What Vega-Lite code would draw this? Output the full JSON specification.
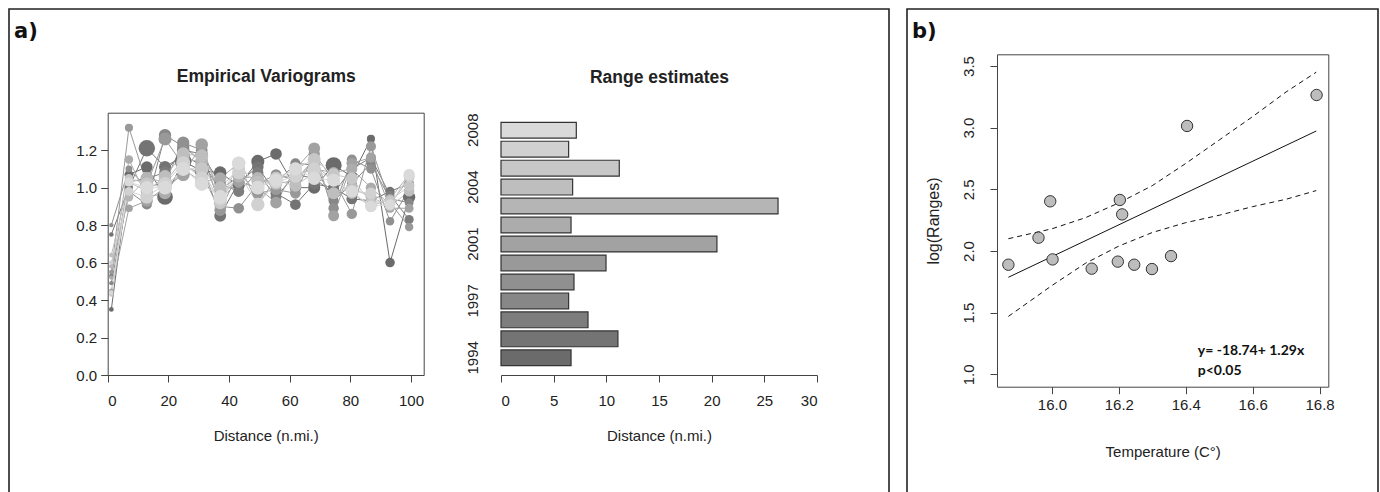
{
"$schema": "https://vega.github.io/schema/vega-lite/v6.json",
"padding": {"left": 8, "top": 8, "right": 0, "bottom": 0},
"background": "white",
"bounds": "flush",
"spacing": 18,
"config": {
  "view": {"stroke": "#222", "strokeWidth": 1.6},
  "font": "Liberation Sans",
  "axis": {"labelFont": "Liberation Sans", "titleFont": "Liberation Sans", "labelFontSize": 15, "titleFontSize": 15, "labelColor": "#222", "titleColor": "#222", "tickColor": "#444", "domainColor": "#444", "grid": false, "titleFontWeight": "normal", "tickSize": 7, "labelPadding": 4}
},
"datasets": {
"vario": [
{"year":1994,"d":1.2,"g":0.35,"n":20},{"year":1994,"d":7,"g":1.07,"n":110},{"year":1994,"d":12.9,"g":1.11,"n":200},{"year":1994,"d":18.9,"g":0.95,"n":380},{"year":1994,"d":24.9,"g":1.14,"n":420},{"year":1994,"d":31,"g":1.09,"n":300},{"year":1994,"d":37.1,"g":1.08,"n":240},{"year":1994,"d":43.2,"g":1.01,"n":200},{"year":1994,"d":49.5,"g":1.14,"n":260},{"year":1994,"d":55.5,"g":1.18,"n":200},{"year":1994,"d":61.9,"g":1.00,"n":190},{"year":1994,"d":68.1,"g":1.00,"n":220},{"year":1994,"d":74.5,"g":1.12,"n":400},{"year":1994,"d":80.5,"g":1.06,"n":180},{"year":1994,"d":86.8,"g":1.26,"n":90},{"year":1994,"d":93.1,"g":0.60,"n":130},{"year":1994,"d":99.4,"g":0.95,"n":230},
{"year":1995,"d":1.2,"g":0.75,"n":18},{"year":1995,"d":7,"g":1.00,"n":90},{"year":1995,"d":12.9,"g":1.21,"n":420},{"year":1995,"d":18.9,"g":1.11,"n":220},{"year":1995,"d":24.9,"g":1.17,"n":260},{"year":1995,"d":31,"g":1.12,"n":230},{"year":1995,"d":37.1,"g":0.85,"n":210},{"year":1995,"d":43.2,"g":1.03,"n":190},{"year":1995,"d":49.5,"g":1.11,"n":200},{"year":1995,"d":55.5,"g":0.97,"n":180},{"year":1995,"d":61.9,"g":0.91,"n":170},{"year":1995,"d":68.1,"g":1.02,"n":190},{"year":1995,"d":74.5,"g":1.00,"n":180},{"year":1995,"d":80.5,"g":0.94,"n":170},{"year":1995,"d":86.8,"g":0.93,"n":160},{"year":1995,"d":93.1,"g":0.98,"n":120},{"year":1995,"d":99.4,"g":1.02,"n":140},
{"year":1996,"d":1.2,"g":0.53,"n":15},{"year":1996,"d":7,"g":1.03,"n":80},{"year":1996,"d":12.9,"g":1.05,"n":180},{"year":1996,"d":18.9,"g":1.08,"n":200},{"year":1996,"d":24.9,"g":1.20,"n":240},{"year":1996,"d":31,"g":1.18,"n":220},{"year":1996,"d":37.1,"g":1.02,"n":190},{"year":1996,"d":43.2,"g":0.98,"n":180},{"year":1996,"d":49.5,"g":1.08,"n":190},{"year":1996,"d":55.5,"g":0.95,"n":170},{"year":1996,"d":61.9,"g":1.07,"n":160},{"year":1996,"d":68.1,"g":1.05,"n":180},{"year":1996,"d":74.5,"g":0.97,"n":170},{"year":1996,"d":80.5,"g":1.10,"n":160},{"year":1996,"d":86.8,"g":1.16,"n":140},{"year":1996,"d":93.1,"g":0.96,"n":110},{"year":1996,"d":99.4,"g":0.83,"n":120},
{"year":1997,"d":1.2,"g":0.49,"n":14},{"year":1997,"d":7,"g":0.98,"n":70},{"year":1997,"d":12.9,"g":0.91,"n":150},{"year":1997,"d":18.9,"g":1.28,"n":230},{"year":1997,"d":24.9,"g":1.22,"n":220},{"year":1997,"d":31,"g":1.14,"n":200},{"year":1997,"d":37.1,"g":0.99,"n":180},{"year":1997,"d":43.2,"g":1.06,"n":160},{"year":1997,"d":49.5,"g":1.05,"n":170},{"year":1997,"d":55.5,"g":1.02,"n":160},{"year":1997,"d":61.9,"g":1.13,"n":150},{"year":1997,"d":68.1,"g":1.12,"n":160},{"year":1997,"d":74.5,"g":0.93,"n":150},{"year":1997,"d":80.5,"g":1.02,"n":140},{"year":1997,"d":86.8,"g":1.13,"n":130},{"year":1997,"d":93.1,"g":0.94,"n":100},{"year":1997,"d":99.4,"g":0.92,"n":110},
{"year":1999,"d":1.2,"g":0.80,"n":16},{"year":1999,"d":7,"g":1.10,"n":60},{"year":1999,"d":12.9,"g":1.00,"n":160},{"year":1999,"d":18.9,"g":1.03,"n":200},{"year":1999,"d":24.9,"g":1.24,"n":230},{"year":1999,"d":31,"g":1.20,"n":200},{"year":1999,"d":37.1,"g":0.90,"n":180},{"year":1999,"d":43.2,"g":0.89,"n":170},{"year":1999,"d":49.5,"g":1.02,"n":180},{"year":1999,"d":55.5,"g":1.07,"n":170},{"year":1999,"d":61.9,"g":1.04,"n":160},{"year":1999,"d":68.1,"g":1.15,"n":170},{"year":1999,"d":74.5,"g":0.89,"n":160},{"year":1999,"d":80.5,"g":1.15,"n":150},{"year":1999,"d":86.8,"g":1.10,"n":130},{"year":1999,"d":93.1,"g":0.82,"n":100},{"year":1999,"d":99.4,"g":0.99,"n":110},
{"year":2000,"d":1.2,"g":0.55,"n":17},{"year":2000,"d":7,"g":1.32,"n":90},{"year":2000,"d":12.9,"g":1.02,"n":180},{"year":2000,"d":18.9,"g":1.26,"n":260},{"year":2000,"d":24.9,"g":1.12,"n":250},{"year":2000,"d":31,"g":1.07,"n":220},{"year":2000,"d":37.1,"g":0.88,"n":200},{"year":2000,"d":43.2,"g":1.08,"n":190},{"year":2000,"d":49.5,"g":0.97,"n":200},{"year":2000,"d":55.5,"g":0.99,"n":180},{"year":2000,"d":61.9,"g":0.97,"n":170},{"year":2000,"d":68.1,"g":1.18,"n":190},{"year":2000,"d":74.5,"g":1.04,"n":170},{"year":2000,"d":80.5,"g":0.86,"n":160},{"year":2000,"d":86.8,"g":1.22,"n":150},{"year":2000,"d":93.1,"g":0.92,"n":110},{"year":2000,"d":99.4,"g":0.79,"n":100},
{"year":2001,"d":1.2,"g":0.45,"n":15},{"year":2001,"d":7,"g":0.89,"n":80},{"year":2001,"d":12.9,"g":0.93,"n":220},{"year":2001,"d":18.9,"g":1.00,"n":240},{"year":2001,"d":24.9,"g":1.07,"n":260},{"year":2001,"d":31,"g":1.23,"n":240},{"year":2001,"d":37.1,"g":0.94,"n":210},{"year":2001,"d":43.2,"g":1.03,"n":200},{"year":2001,"d":49.5,"g":1.00,"n":210},{"year":2001,"d":55.5,"g":0.92,"n":200},{"year":2001,"d":61.9,"g":1.10,"n":190},{"year":2001,"d":68.1,"g":1.21,"n":210},{"year":2001,"d":74.5,"g":0.85,"n":180},{"year":2001,"d":80.5,"g":1.13,"n":170},{"year":2001,"d":86.8,"g":1.16,"n":150},{"year":2001,"d":93.1,"g":0.89,"n":120},{"year":2001,"d":99.4,"g":0.89,"n":110},
{"year":2002,"d":1.2,"g":0.52,"n":14},{"year":2002,"d":7,"g":1.15,"n":100},{"year":2002,"d":12.9,"g":0.95,"n":200},{"year":2002,"d":18.9,"g":0.97,"n":220},{"year":2002,"d":24.9,"g":1.10,"n":240},{"year":2002,"d":31,"g":1.03,"n":230},{"year":2002,"d":37.1,"g":1.05,"n":210},{"year":2002,"d":43.2,"g":1.13,"n":200},{"year":2002,"d":49.5,"g":0.91,"n":210},{"year":2002,"d":55.5,"g":1.05,"n":200},{"year":2002,"d":61.9,"g":1.07,"n":190},{"year":2002,"d":68.1,"g":1.10,"n":200},{"year":2002,"d":74.5,"g":1.08,"n":190},{"year":2002,"d":80.5,"g":1.10,"n":180},{"year":2002,"d":86.8,"g":1.00,"n":160},{"year":2002,"d":93.1,"g":0.91,"n":120},{"year":2002,"d":99.4,"g":1.05,"n":130},
{"year":2003,"d":1.2,"g":0.58,"n":16},{"year":2003,"d":7,"g":0.95,"n":110},{"year":2003,"d":12.9,"g":1.05,"n":240},{"year":2003,"d":18.9,"g":1.03,"n":260},{"year":2003,"d":24.9,"g":1.15,"n":260},{"year":2003,"d":31,"g":1.14,"n":250},{"year":2003,"d":37.1,"g":0.94,"n":230},{"year":2003,"d":43.2,"g":1.06,"n":220},{"year":2003,"d":49.5,"g":1.05,"n":230},{"year":2003,"d":55.5,"g":1.02,"n":220},{"year":2003,"d":61.9,"g":1.04,"n":210},{"year":2003,"d":68.1,"g":1.12,"n":220},{"year":2003,"d":74.5,"g":1.04,"n":200},{"year":2003,"d":80.5,"g":0.97,"n":190},{"year":2003,"d":86.8,"g":0.90,"n":170},{"year":2003,"d":93.1,"g":0.94,"n":130},{"year":2003,"d":99.4,"g":1.07,"n":140},
{"year":2004,"d":1.2,"g":0.64,"n":18},{"year":2004,"d":7,"g":1.03,"n":100},{"year":2004,"d":12.9,"g":0.98,"n":230},{"year":2004,"d":18.9,"g":1.06,"n":240},{"year":2004,"d":24.9,"g":1.18,"n":270},{"year":2004,"d":31,"g":1.17,"n":260},{"year":2004,"d":37.1,"g":1.00,"n":240},{"year":2004,"d":43.2,"g":1.10,"n":230},{"year":2004,"d":49.5,"g":1.03,"n":240},{"year":2004,"d":55.5,"g":1.04,"n":230},{"year":2004,"d":61.9,"g":1.01,"n":220},{"year":2004,"d":68.1,"g":1.08,"n":230},{"year":2004,"d":74.5,"g":0.97,"n":210},{"year":2004,"d":80.5,"g":1.00,"n":200},{"year":2004,"d":86.8,"g":0.95,"n":170},{"year":2004,"d":93.1,"g":0.90,"n":140},{"year":2004,"d":99.4,"g":0.98,"n":160},
{"year":2006,"d":1.2,"g":0.43,"n":15},{"year":2006,"d":7,"g":1.05,"n":100},{"year":2006,"d":12.9,"g":1.02,"n":250},{"year":2006,"d":18.9,"g":1.00,"n":270},{"year":2006,"d":24.9,"g":1.10,"n":280},{"year":2006,"d":31,"g":1.10,"n":280},{"year":2006,"d":37.1,"g":0.92,"n":260},{"year":2006,"d":43.2,"g":1.13,"n":260},{"year":2006,"d":49.5,"g":1.00,"n":260},{"year":2006,"d":55.5,"g":1.05,"n":250},{"year":2006,"d":61.9,"g":1.10,"n":240},{"year":2006,"d":68.1,"g":1.15,"n":250},{"year":2006,"d":74.5,"g":1.07,"n":230},{"year":2006,"d":80.5,"g":1.05,"n":210},{"year":2006,"d":86.8,"g":0.92,"n":180},{"year":2006,"d":93.1,"g":0.93,"n":150},{"year":2006,"d":99.4,"g":1.01,"n":170},
{"year":2007,"d":1.2,"g":0.60,"n":16},{"year":2007,"d":7,"g":0.98,"n":110},{"year":2007,"d":12.9,"g":0.95,"n":260},{"year":2007,"d":18.9,"g":1.02,"n":280},{"year":2007,"d":24.9,"g":1.13,"n":300},{"year":2007,"d":31,"g":1.05,"n":290},{"year":2007,"d":37.1,"g":0.94,"n":270},{"year":2007,"d":43.2,"g":1.08,"n":270},{"year":2007,"d":49.5,"g":0.91,"n":270},{"year":2007,"d":55.5,"g":1.03,"n":260},{"year":2007,"d":61.9,"g":1.06,"n":250},{"year":2007,"d":68.1,"g":1.10,"n":260},{"year":2007,"d":74.5,"g":1.04,"n":240},{"year":2007,"d":80.5,"g":0.98,"n":220},{"year":2007,"d":86.8,"g":0.97,"n":190},{"year":2007,"d":93.1,"g":0.91,"n":160},{"year":2007,"d":99.4,"g":1.06,"n":180},
{"year":2008,"d":1.2,"g":0.44,"n":15},{"year":2008,"d":7,"g":1.03,"n":120},{"year":2008,"d":12.9,"g":1.00,"n":270},{"year":2008,"d":18.9,"g":1.00,"n":290},{"year":2008,"d":24.9,"g":1.10,"n":300},{"year":2008,"d":31,"g":1.02,"n":300},{"year":2008,"d":37.1,"g":0.95,"n":290},{"year":2008,"d":43.2,"g":1.13,"n":280},{"year":2008,"d":49.5,"g":1.00,"n":280},{"year":2008,"d":55.5,"g":1.04,"n":270},{"year":2008,"d":61.9,"g":1.10,"n":260},{"year":2008,"d":68.1,"g":1.05,"n":270},{"year":2008,"d":74.5,"g":1.04,"n":250},{"year":2008,"d":80.5,"g":0.98,"n":230},{"year":2008,"d":86.8,"g":0.90,"n":200},{"year":2008,"d":93.1,"g":0.91,"n":160},{"year":2008,"d":99.4,"g":1.07,"n":190}
],
"ranges": [
{"year":1994,"r":6.65},{"year":1995,"r":11.1},{"year":1996,"r":8.26},{"year":1997,"r":6.42},{"year":1999,"r":6.93},{"year":2000,"r":9.97},{"year":2001,"r":20.5},{"year":2002,"r":6.65},{"year":2003,"r":26.3},{"year":2004,"r":6.8},{"year":2006,"r":11.23},{"year":2007,"r":6.42},{"year":2008,"r":7.15}
],
"temp": [
{"t":15.870,"v":1.889},{"t":15.960,"v":2.108},{"t":15.995,"v":2.403},{"t":16.002,"v":1.932},{"t":16.119,"v":1.857},{"t":16.197,"v":1.914},{"t":16.203,"v":2.414},{"t":16.210,"v":2.297},{"t":16.246,"v":1.889},{"t":16.299,"v":1.854},{"t":16.356,"v":1.959},{"t":16.404,"v":3.014},{"t":16.791,"v":3.265}
],
"fit": [{"t":15.87,"v":1.787},{"t":16.79,"v":2.973}],
"band": [
{"k":"upper","t":15.87,"v":2.10},{"k":"upper","t":16.0,"v":2.18},{"k":"upper","t":16.1,"v":2.27},{"k":"upper","t":16.2,"v":2.39},{"k":"upper","t":16.3,"v":2.53},{"k":"upper","t":16.4,"v":2.71},{"k":"upper","t":16.5,"v":2.90},{"k":"upper","t":16.6,"v":3.09},{"k":"upper","t":16.7,"v":3.29},{"k":"upper","t":16.79,"v":3.45},
{"k":"lower","t":15.87,"v":1.47},{"k":"lower","t":16.0,"v":1.72},{"k":"lower","t":16.1,"v":1.90},{"k":"lower","t":16.2,"v":2.04},{"k":"lower","t":16.3,"v":2.15},{"k":"lower","t":16.4,"v":2.23},{"k":"lower","t":16.5,"v":2.29},{"k":"lower","t":16.6,"v":2.36},{"k":"lower","t":16.7,"v":2.42},{"k":"lower","t":16.79,"v":2.49}
],
"note": [{"t":16.436,"v":1.19,"label":"y= -18.74+ 1.29x"},{"t":16.436,"v":1.03,"label":"p<0.05"}]
},
"hconcat": [
{
"width": 880, "height": 486,
"title": {"text": "a)", "anchor": "start", "frame": "group", "orient": "top", "offset": -50, "dx": 5, "fontSize": 21, "font": "DejaVu Sans", "fontWeight": "bold", "color": "#111", "baseline": "alphabetic"},
"resolve": {"scale": {"x": "independent", "y": "independent"}, "axis": {"x": "independent", "y": "independent"}},
"layer": [
{
"data": {"name": "vario"},
"mark": {"type": "line", "strokeWidth": 1},
"encoding": {
"x": {"field": "d", "type": "quantitative", "scale": {"domain": [0, 104.2], "range": [98.7, 414.7], "nice": false, "zero": false}, "axis": {"orient": "top", "offset": -103.7, "domain": true, "ticks": false, "labels": false, "title": "Empirical Variograms", "titleFontWeight": "bold", "titleFontSize": 17.5, "titlePadding": 27}},
"y": {"field": "g", "type": "quantitative", "scale": {"domain": [0, 1.4], "range": [366, 103.7], "nice": false, "zero": false}, "axis": {"orient": "right", "offset": -465.3, "domain": true, "ticks": false, "labels": false, "title": null}},
"color": {"field": "year", "type": "ordinal", "scale": {"domain": [1994,1995,1996,1997,1999,2000,2001,2002,2003,2004,2006,2007,2008], "range": ["#6b6b6b","#747474","#7d7d7d","#878787","#909090","#999999","#a2a2a2","#acacac","#b5b5b5","#bebebe","#c7c7c7","#d1d1d1","#dadada"]}, "legend": null},
"order": {"field": "d", "type": "quantitative"}
}
},
{
"data": {"name": "vario"},
"mark": {"type": "circle", "opacity": 1},
"encoding": {
"x": {"field": "d", "type": "quantitative", "scale": {"domain": [0, 104.2], "range": [98.7, 414.7], "nice": false, "zero": false}, "axis": {"orient": "bottom", "offset": -120, "values": [0,20,40,60,80,100], "domain": true, "labelPadding": 11, "title": "Distance (n.mi.)", "titlePadding": 20}},
"y": {"field": "g", "type": "quantitative", "scale": {"domain": [0, 1.4], "range": [366, 103.7], "nice": false, "zero": false}, "axis": {"orient": "left", "offset": -98.7, "values": [0,0.2,0.4,0.6,0.8,1.0,1.2], "format": ".1f", "domain": true, "title": null}},
"color": {"field": "year", "type": "ordinal", "scale": {"domain": [1994,1995,1996,1997,1999,2000,2001,2002,2003,2004,2006,2007,2008], "range": ["#6b6b6b","#747474","#7d7d7d","#878787","#909090","#999999","#a2a2a2","#acacac","#b5b5b5","#bebebe","#c7c7c7","#d1d1d1","#dadada"]}, "legend": null},
"size": {"field": "n", "type": "quantitative", "scale": {"domain": [0, 500], "range": [10, 320], "zero": false}, "legend": null}
}
},
{
"mark": {"type": "rule", "strokeDash": [4, 3], "color": "#222", "strokeWidth": 1},
"encoding": {
"x": {"datum": 0, "type": "quantitative", "scale": {"domain": [0, 104.2], "range": [98.7, 414.7], "nice": false, "zero": false}, "axis": null},
"x2": {"datum": 104.2},
"y": {"datum": 1, "type": "quantitative", "scale": {"domain": [0, 1.4], "range": [366, 103.7], "nice": false, "zero": false}, "axis": null}
}
},
{
"data": {"name": "ranges"},
"mark": {"type": "bar"},
"encoding": {
"x": {"field": "r", "type": "quantitative", "scale": {"domain": [0, 30], "range": [492, 808], "nice": false}, "axis": {"orient": "bottom", "offset": -120, "values": [0,5,10,15,20,25,30], "domain": true, "labelPadding": 11, "title": "Distance (n.mi.)", "titlePadding": 20}},
"y": {"field": "year", "type": "ordinal", "sort": "descending", "scale": {"range": [104, 366], "paddingInner": 0.1667, "paddingOuter": 0.49}, "axis": {"orient": "left", "offset": -492, "values": [1994,1997,2001,2004,2008], "ticks": false, "domain": false, "labelAngle": 270, "labelPadding": 21, "title": null}},
"color": {"field": "year", "type": "ordinal", "scale": {"domain": [1994,1995,1996,1997,1999,2000,2001,2002,2003,2004,2006,2007,2008], "range": ["#6b6b6b","#747474","#7d7d7d","#878787","#909090","#999999","#a2a2a2","#acacac","#b5b5b5","#bebebe","#c7c7c7","#d1d1d1","#dadada"]}, "legend": null}
}
},
{
"data": {"name": "ranges"},
"mark": {"type": "bar", "fillOpacity": 0, "stroke": "#333", "strokeWidth": 1.2},
"encoding": {
"x": {"field": "r", "type": "quantitative", "scale": {"domain": [0, 30], "range": [492, 808], "nice": false}, "axis": {"orient": "top", "offset": -104, "domain": false, "ticks": false, "labels": false, "title": "Range estimates", "titleFontWeight": "bold", "titleFontSize": 17.5, "titlePadding": 27}},
"y": {"field": "year", "type": "ordinal", "sort": "descending", "scale": {"range": [104, 366], "paddingInner": 0.1667, "paddingOuter": 0.49}, "axis": null}
}
}
]
},
{
"width": 471, "height": 486,
"title": {"text": "b)", "anchor": "start", "frame": "group", "orient": "top", "offset": -50, "dx": 5, "fontSize": 21, "font": "DejaVu Sans", "fontWeight": "bold", "color": "#111", "baseline": "alphabetic"},
"resolve": {"scale": {"x": "independent", "y": "independent"}, "axis": {"x": "independent", "y": "independent"}},
"layer": [
{
"data": {"name": "band"},
"mark": {"type": "line", "strokeDash": [5, 4], "color": "#111", "strokeWidth": 1},
"encoding": {
"x": {"field": "t", "type": "quantitative", "scale": {"domain": [15.836, 16.826], "range": [90, 421.3], "nice": false, "zero": false}, "axis": null},
"y": {"field": "v", "type": "quantitative", "scale": {"domain": [0.9, 3.595], "range": [377.7, 45.3], "nice": false, "zero": false}, "axis": null},
"detail": {"field": "k"}
}
},
{
"data": {"name": "fit"},
"mark": {"type": "line", "color": "#111", "strokeWidth": 1},
"encoding": {
"x": {"field": "t", "type": "quantitative", "scale": {"domain": [15.836, 16.826], "range": [90, 421.3], "nice": false, "zero": false}, "axis": {"orient": "top", "offset": -45.3, "domain": true, "ticks": false, "labels": false, "title": null}},
"y": {"field": "v", "type": "quantitative", "scale": {"domain": [0.9, 3.595], "range": [377.7, 45.3], "nice": false, "zero": false}, "axis": {"orient": "right", "offset": -49.7, "domain": true, "ticks": false, "labels": false, "title": null}}
}
},
{
"data": {"name": "temp"},
"mark": {"type": "point", "shape": "circle", "filled": true, "fill": "#bdbdbd", "stroke": "#333", "strokeWidth": 1, "opacity": 1, "size": 130},
"encoding": {
"x": {"field": "t", "type": "quantitative", "scale": {"domain": [15.836, 16.826], "range": [90, 421.3], "nice": false, "zero": false}, "axis": {"orient": "bottom", "offset": -108.3, "values": [16.0,16.2,16.4,16.6,16.8], "format": ".1f", "domain": true, "labelPadding": 4, "title": "Temperature (C°)", "titlePadding": 32}},
"y": {"field": "v", "type": "quantitative", "scale": {"domain": [0.9, 3.595], "range": [377.7, 45.3], "nice": false, "zero": false}, "axis": {"orient": "left", "offset": -90, "values": [1.0,1.5,2.0,2.5,3.0,3.5], "format": ".1f", "labelAngle": 270, "labelPadding": 14, "domain": true, "title": "log(Ranges)", "titleFontSize": 16, "titlePadding": 20}}
}
},
{
"data": {"name": "note"},
"mark": {"type": "text", "align": "left", "baseline": "middle", "font": "Lato", "fontWeight": "bold", "fontSize": 14, "color": "#111"},
"encoding": {
"x": {"field": "t", "type": "quantitative", "scale": {"domain": [15.836, 16.826], "range": [90, 421.3], "nice": false, "zero": false}, "axis": null},
"y": {"field": "v", "type": "quantitative", "scale": {"domain": [0.9, 3.595], "range": [377.7, 45.3], "nice": false, "zero": false}, "axis": null},
"text": {"field": "label"}
}
}
]
}
]
}
